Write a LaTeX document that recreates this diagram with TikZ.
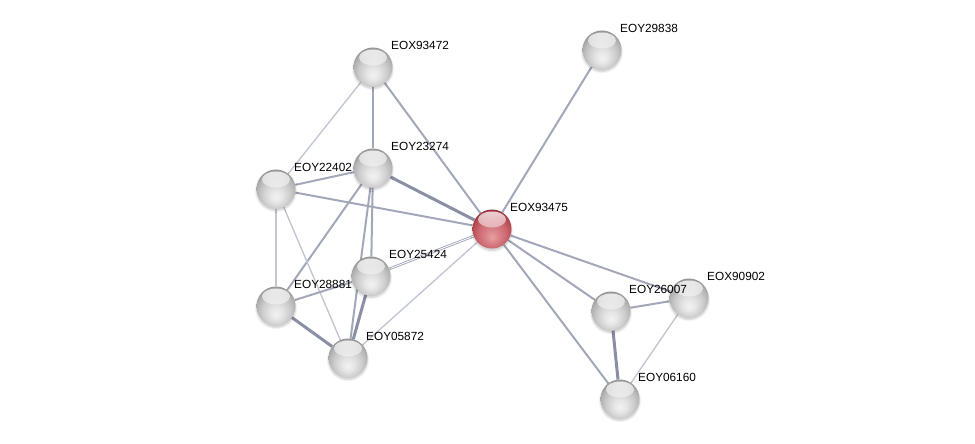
\documentclass[tikz,border=0pt]{standalone}
\usepackage{fontspec}
\setmainfont{Liberation Sans}
\usepackage{tikz}
\usetikzlibrary{backgrounds, shadows.blur, fadings}
\definecolor{linkthin}{HTML}{C4C7D3}
\definecolor{linkmid}{HTML}{A3A7BA}
\definecolor{linkthick}{HTML}{8A8FA6}
\definecolor{rimgray}{HTML}{8A8A8A}
\definecolor{rimred}{HTML}{8E262E}
\definecolor{redlow}{HTML}{E6A0A4}
\definecolor{redmid}{HTML}{DA848A}
\definecolor{redhigh}{HTML}{CC6870}
\definecolor{rededge}{HTML}{B84C55}
\pgfdeclareradialshading{glassplain}{\pgfpoint{0bp}{-11bp}}{%
  color(0bp)=(white!95!black); color(8bp)=(white!90!black);
  color(18bp)=(white!80!black); color(25bp)=(white!70!black);
  color(31bp)=(rimgray); color(50bp)=(rimgray)}
\pgfdeclareradialshading{glassquery}{\pgfpoint{0bp}{-11bp}}{%
  color(0bp)=(redlow); color(8bp)=(redmid);
  color(18bp)=(redhigh); color(25bp)=(rededge);
  color(31bp)=(rimred); color(50bp)=(rimred)}
\newcommand\protein[4]{%
  \node[sphere, shading=glass#1] (#2) at (#3,#4) {};}
\newcommand\proteintag[4]{%
  \node[tag] (#1-tag) at (#2+17,#3-22) {#4};}
\tikzset{
  softshadow/.style={blur shadow={shadow blur steps=5,
    shadow xshift=0pt, shadow yshift=-2pt, shadow opacity=22}},
  sphere/.style={circle, minimum size=39pt, inner sep=0pt, softshadow,
    path picture={\fill[white, path fading=south, fill opacity=0.8]
      ([yshift=-10pt]path picture bounding box.north) ellipse (14pt and 8pt);}},
  tag/.style={anchor=west, inner sep=1pt, font=\fontsize{11.8}{13}\selectfont},
  thin link/.style={draw=linkthin, line width=1.4pt},
  mid link/.style={draw=linkmid, line width=2pt},
  thick link/.style={draw=linkthick, line width=3pt},
}
\begin{document}
\begin{tikzpicture}[x=1pt, y=-1pt]
\useasboundingbox (0,0) rectangle (975,444);
% proteins
\protein{plain}{x93472}{373}{67}
\protein{plain}{y29838}{602}{50}
\protein{plain}{y23274}{373}{168}
\protein{plain}{y22402}{276}{189}
\protein{query}{x93475}{492}{229}
\protein{plain}{y25424}{371}{276}
\protein{plain}{y28881}{276}{306}
\protein{plain}{y05872}{348}{358}
\protein{plain}{y26007}{611}{311}
\protein{plain}{x90902}{689}{298}
\protein{plain}{y06160}{620}{399}
% names, on top of every sphere
\proteintag{x93472}{373}{67}{EOX93472}
\proteintag{y29838}{602}{50}{EOY29838}
\proteintag{y23274}{373}{168}{EOY23274}
\proteintag{y22402}{276}{189}{EOY22402}
\proteintag{x93475}{492}{229}{EOX93475}
\proteintag{y25424}{371}{276}{EOY25424}
\proteintag{y28881}{276}{306}{EOY28881}
\proteintag{y05872}{348}{358}{EOY05872}
\proteintag{y26007}{611}{311}{EOY26007}
\proteintag{x90902}{689}{298}{EOX90902}
\proteintag{y06160}{620}{399}{EOY06160}
% links (behind the spheres)
\begin{scope}[on background layer]
\draw[thin link] (x93472) -- (y22402);
\draw[mid link] (x93472) -- (y23274);
\draw[mid link] (x93472) -- (x93475);
\draw[mid link] (y29838) -- (x93475);
\draw[mid link] (y22402) -- (y23274);
\draw[mid link] (y22402) -- (x93475);
\draw[thick link] (y23274) -- (x93475);
\draw[mid link] (y23274) -- (y28881);
\draw[mid link] (y23274) -- (y25424);
\draw[mid link] (y23274) -- (y05872);
\draw[thin link] (y22402) -- (y28881);
\draw[thin link] (y22402) -- (y05872);
\draw[mid link, double=white, double distance=0.8pt, line width=0.9pt] (y25424) -- (x93475);
\draw[mid link] (y28881) -- (y25424);
\draw[thick link] (y28881) -- (y05872);
\draw[thick link] (y25424) -- (y05872);
\draw[thin link] (y05872) -- (x93475);
\draw[mid link] (x93475) -- (y26007);
\draw[mid link] (x93475) -- (x90902);
\draw[mid link] (x93475) -- (y06160);
\draw[mid link] (y26007) -- (x90902);
\draw[thick link] (y26007) -- (y06160);
\draw[thin link] (x90902) -- (y06160);
\end{scope}
\end{tikzpicture}
\end{document}
